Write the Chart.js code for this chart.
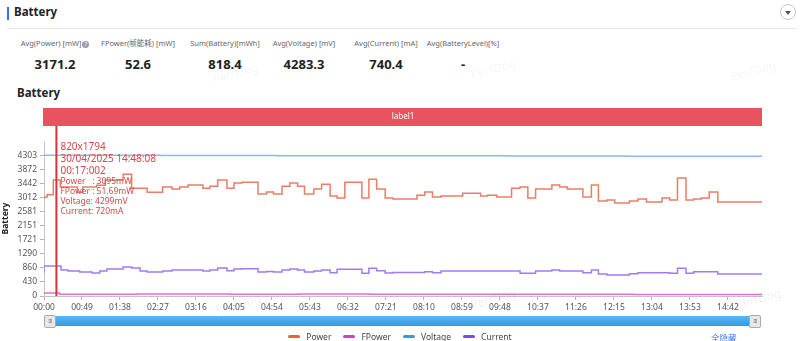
<!DOCTYPE html>
<html>
<head>
<meta charset="utf-8">
<script src="https://cdn.jsdelivr.net/npm/chart.js@4"></script>
<style>
  html, body { margin: 0; padding: 0; background: #fff; }
  body { width: 800px; height: 341px; position: relative; overflow: hidden;
         font-family: "Noto Sans", "Noto Sans CJK SC", sans-serif; color: #333; }
  .abs { position: absolute; }
  .bar { left: 7px; top: 7px; width: 2px; height: 13px; background: #3b6ff5; }
  .title { left: 14px; top: 4px; font-size: 11.5px; font-weight: bold; color: #222; }
  .sep { left: 7px; top: 28px; width: 790px; height: 1px; background: #e4e7ef; }
  .toggle { left: 780px; top: 4px; width: 14px; height: 14px; border: 1px solid #c8c8c8; border-radius: 50%; }
  .toggle:after { content: ""; position: absolute; left: 4px; top: 6px; border-left: 3px solid transparent;
                  border-right: 3px solid transparent; border-top: 4px solid #555; }
  .stat { width: 90px; text-align: center; }
  .stat .lbl { font-size: 7.5px; color: #666; height: 12px; line-height: 12px; white-space: nowrap; }
  .stat .val { font-size: 13px; font-weight: bold; color: #222; margin-top: 6px; }
  .help { display: inline-block; width: 7px; height: 7px; border-radius: 50%; background: #9aa0a8;
          color: #fff; font-size: 6px; line-height: 7px; text-align: center; vertical-align: 0; margin-left: 1px; }
  .subtitle { left: 17px; top: 85px; font-size: 11.5px; font-weight: bold; color: #222; }
  #chart { left: 0; top: 100px; }
  .track { left: 44px; top: 316px; width: 716px; height: 10px; border-radius: 2px;
           background: linear-gradient(#5bb8f3, #2f9be6); }
  .handle { top: 315px; width: 10px; height: 11px; background: #e8e8e8; border: 1px solid #aaa; border-radius: 2px;
            font-size: 5px; line-height: 11px; text-align: center; color: #777; letter-spacing: -0.5px; }
  #legend { left: 0; top: 331px; width: 800px; display: flex; justify-content: center; font-size: 8.5px; color: #444; }
  .item { display: flex; align-items: center; margin: 0 6px; }
  .sw { width: 12px; height: 3px; border-radius: 1.5px; margin-right: 6px; }
  .hideall { left: 711px; top: 331px; font-size: 8.5px; color: #3b78f0; }
  .wm { font-size: 12px; color: rgba(0,0,0,0.06); transform: rotate(-15deg); pointer-events: none; }
</style>
</head>
<body>
<div class="abs bar"></div>
<div class="abs title">Battery</div>
<div class="abs toggle"></div>
<div class="abs sep"></div>
<div id="stats"></div>
<div class="abs subtitle">Battery</div>
<canvas id="chart" class="abs" width="800" height="220"></canvas>
<div class="abs track"></div>
<div class="abs handle" style="left:44px">III</div>
<div class="abs handle" style="left:749px">III</div>
<div id="legend" class="abs"></div>
<div class="abs hideall">全隐藏</div>
<div class="abs wm" style="left:212px;top:64px">PerfDog</div>
<div class="abs wm" style="left:470px;top:60px">PerfDog</div>
<div class="abs wm" style="left:730px;top:62px">PerfDog</div>
<div class="abs wm" style="left:215px;top:295px">PerfDog</div>
<div class="abs wm" style="left:470px;top:290px">PerfDog</div>
<div class="abs wm" style="left:735px;top:290px">PerfDog</div>

<script>
// summary row
const statLabels = ["Avg(Power) [mW]", "FPower(帧能耗) [mW]", "Sum(Battery)[mWh]", "Avg(Voltage) [mV]", "Avg(Current) [mA]", "Avg(BatteryLevel)[%]"];
const statValues = ["3171.2", "52.6", "818.4", "4283.3", "740.4", "-"];
const statCenters = [55, 138, 225, 304, 386, 463];

// time axis (seconds) and value axis
const xTicks = [0, 49, 98, 147, 196, 245, 294, 343, 392, 441, 490, 539, 588, 637, 686, 735, 784, 833, 882];
const xTickLabels = ["00:00", "00:49", "01:38", "02:27", "03:16", "04:05", "04:54", "05:43", "06:32", "07:21",
  "08:10", "08:59", "09:48", "10:37", "11:26", "12:15", "13:04", "13:53", "14:42"];
const xMax = 926;
const yTicks = [0, 430, 860, 1290, 1721, 2151, 2581, 3012, 3442, 3872, 4303];
const yMax = 4733;

// series as change points (seconds, value)
const powerT = [0, 4, 12, 21, 43, 50, 68, 79, 102, 113, 133, 153, 165, 175, 186, 205, 214, 224, 236, 245,
  255, 276, 287, 296, 307, 317, 327, 336, 348, 358, 369, 378, 388, 410, 419, 429, 440, 450, 481, 491,
  501, 512, 540, 563, 572, 584, 603, 614, 624, 634, 655, 665, 675, 695, 706, 715, 726, 736, 755, 766,
  777, 797, 807, 817, 828, 838, 848, 858, 869, 888, 926];
const powerV = [2960, 3020, 3095, 3540, 3330, 3170, 3330, 3380, 3540, 3720, 3294, 3170, 3325, 3264, 3325, 3386, 3294, 3355, 3540, 3294,
  3447, 3477, 3111, 3172, 3111, 3355, 3447, 3355, 3111, 3264, 3416, 3050, 2990, 3477, 2990, 3568, 3264, 2990, 2960, 3080,
  3172, 3020, 3050, 3141, 3050, 3080, 3020, 3294, 3325, 2990, 3264, 3386, 3325, 3264, 3020, 3386, 2898, 2929, 2837, 2898,
  2960, 2868, 2990, 2929, 3600, 2929, 2960, 2990, 3172, 2868, 2868];

const fpowerT = [0, 20, 35, 120, 240, 330, 420, 520, 640, 760, 840, 926];
const fpowerV = [48, 90, 55, 52, 60, 50, 62, 54, 50, 55, 48, 48];

const voltT = [0, 10, 150, 300, 450, 600, 750, 926];
const voltV = [4303, 4299, 4296, 4291, 4285, 4279, 4273, 4268];

const currentT = [0, 22, 31, 46, 62, 72, 81, 102, 113, 124, 133, 153, 165, 205, 214, 224, 236, 245, 255, 276,
  287, 296, 307, 317, 327, 336, 348, 358, 369, 378, 410, 419, 429, 440, 450, 491, 501, 512, 614, 634,
  655, 665, 695, 706, 715, 726, 755, 766, 807, 817, 828, 838, 869, 888, 926];
const currentV = [720, 915, 793, 762, 732, 701, 762, 823, 884, 854, 762, 732, 762, 793, 762, 793, 854, 770, 823, 830,
  732, 745, 732, 793, 823, 793, 732, 762, 793, 711, 814, 692, 844, 772, 701, 720, 742, 711, 762, 692,
  762, 793, 762, 711, 793, 671, 640, 680, 711, 692, 844, 692, 742, 671, 671];

const seriesNames = ["Power", "FPower", "Voltage", "Current"];
const lineColors = ["#ea7d68", "#e070d6", "#8cb9f3", "#a17cef"];
const legendColors = ["#e8623f", "#cc44bb", "#3f92f0", "#7b4ae6"];

// cursor + its readout
const bandLabel = "label1";
const cursorTime = 16;
const cursorLines = ["820x1794", "30/04/2025 14:48:08", "00:17:002", "Power   : 3095mW", "FPower : 51.69mW", "Voltage: 4299mV", "Current: 720mA"];

const FONT = '"Noto Sans", "Noto Sans CJK SC", sans-serif';

// stats
const statsEl = document.getElementById("stats");
statLabels.forEach((l, i) => {
  const help = i === 0 ? '<span class="help">?</span>' : "";
  statsEl.insertAdjacentHTML("beforeend",
    `<div class="abs stat" style="left:${statCenters[i] - 45}px;top:37px"><div class="lbl">${l}${help}</div><div class="val">${statValues[i]}</div></div>`);
});

// legend
const legendEl = document.getElementById("legend");
seriesNames.forEach((n, i) => {
  legendEl.insertAdjacentHTML("beforeend",
    `<div class="item"><div class="sw" style="background:${legendColors[i]}"></div>${n}</div>`);
});

const toPoints = (t, v) => t.map((x, i) => ({ x: x, y: v[i] }));
const allT = [powerT, fpowerT, voltT, currentT];
const allV = [powerV, fpowerV, voltV, currentV];

const cursorPlugin = {
  id: "cursor",
  afterDraw(chart) {
    const c = chart.ctx, a = chart.chartArea;
    c.save();
    // annotation band
    c.fillStyle = "#e9525f";
    c.fillRect(a.left - 1, 8, a.right - a.left + 1, 18);
    c.fillStyle = "#fff";
    c.font = "8px " + FONT;
    c.textAlign = "center";
    c.textBaseline = "middle";
    c.fillText(bandLabel, (a.left + a.right) / 2, 17);
    // cursor line
    const x = chart.scales.x.getPixelForValue(cursorTime);
    c.strokeStyle = "#d8323c";
    c.lineWidth = 2;
    c.beginPath();
    c.moveTo(x, 26);
    c.lineTo(x, a.bottom);
    c.stroke();
    // readout text
    c.fillStyle = "#d9474b";
    c.textAlign = "left";
    const ys = [47, 59, 71, 82, 92, 102, 112];
    cursorLines.forEach((s, i) => {
      c.font = (i < 3 ? "10px " : "8.5px ") + FONT;
      c.fillText(s, x + 4, ys[i]);
    });
    c.restore();
  }
};

new Chart(document.getElementById("chart"), {
  type: "line",
  data: {
    datasets: seriesNames.map((n, i) => ({
      label: n,
      data: toPoints(allT[i], allV[i]),
      borderColor: lineColors[i],
      backgroundColor: legendColors[i],
      borderWidth: 1.5,
      pointRadius: 0,
      stepped: "after",
      fill: false
    }))
  },
  options: {
    responsive: false,
    animation: false,
    layout: { padding: { top: 41, right: 38, left: 0, bottom: 0 } },
    plugins: { legend: { display: false }, tooltip: { enabled: false } },
    scales: {
      x: {
        type: "linear", min: 0, max: xMax,
        afterBuildTicks: s => { s.ticks = xTicks.map(v => ({ value: v })); },
        afterFit: s => { s.height = 24; },
        ticks: {
          autoSkip: false, maxRotation: 0, padding: 2,
          color: "#555", font: { size: 8.5, family: FONT },
          callback: (v, i) => xTickLabels[i]
        },
        grid: { drawOnChartArea: false, tickLength: 4, color: "#b5b5b5" },
        border: { color: "#c4c4c4" }
      },
      y: {
        min: 0, max: yMax,
        afterBuildTicks: s => { s.ticks = yTicks.map(v => ({ value: v })); },
        afterFit: s => { s.width = 44; },
        ticks: { padding: 3, color: "#555", font: { size: 8.5, family: FONT }, callback: v => v },
        grid: { drawOnChartArea: false, tickLength: 4, color: "#b5b5b5" },
        border: { color: "#c4c4c4" },
        title: { display: true, text: "Battery", color: "#222", padding: 0, font: { size: 8.5, weight: "bold", family: FONT } }
      }
    }
  },
  plugins: [cursorPlugin]
});
</script>
</body>
</html>
